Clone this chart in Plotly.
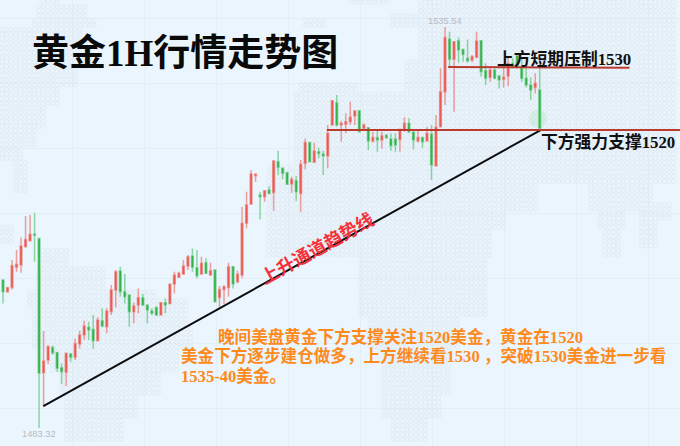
import plotly.graph_objects as go

# --- chart values (gold, 1H candles) ---
OPEN = [1502.59,1501.07,1501.63,1504.24,1504.54,1506.93,1507.71,1508.58,1508.01,1490.52,
        1492.17,1493.82,1493.17,1491.18,1490.57,1492.95,1492.52,1494.26,1495.43,1496.43,
        1496.17,1494.69,1497.29,1496.51,1498.47,1501.29,1503.76,1501.07,1500.64,1498.47,
        1499.33,1500.29,1499.33,1498.55,1498.99,1498.03,1499.64,1499.55,1502.07,1502.94,
        1503.37,1504.41,1505.71,1504.20,1503.37,1504.85,1503.24,1503.89,1500.33,1501.37,
        1501.63,1504.33,1502.37,1503.24,1509.97,1512.48,1516.17,1513.66,1513.44,1514.31,
        1514.00,1518.00,1517.13,1516.56,1515.09,1515.52,1513.87,1517.78,1520.51,1517.91,
        1519.30,1518.99,1518.73,1522.77,1525.68,1522.77,1522.86,1523.20,1523.94,1524.64,
        1522.34,1522.42,1520.69,1521.16,1520.82,1521.43,1520.95,1520.95,1520.90,1522.12,
        1522.99,1521.82,1520.69,1521.16,1520.69,1521.56,1517.48,1522.55,1527.11,1533.97,
        1531.32,1533.75,1532.62,1531.45,1531.23,1531.58,1533.75,1529.84,1528.98,1529.93,
        1529.15,1528.72,1529.15,1530.80,1531.75,1530.37,1528.85,1527.98,1527.67,1527.33]
HIGH = [1502.59,1501.72,1505.19,1506.50,1508.14,1510.92,1511.05,1511.36,1508.01,1495.95,
        1494.13,1494.04,1493.26,1491.74,1493.13,1493.13,1494.99,1495.99,1497.29,1497.16,
        1498.03,1497.73,1498.90,1498.90,1501.94,1503.89,1504.33,1503.37,1500.72,1499.64,
        1501.50,1500.77,1499.33,1498.90,1499.20,1499.64,1500.20,1502.07,1503.67,1503.67,
        1505.19,1505.84,1506.71,1506.50,1505.63,1505.41,1504.85,1503.98,1501.81,1501.94,
        1504.85,1504.33,1503.80,1512.14,1514.09,1516.91,1516.48,1514.09,1514.31,1514.83,
        1518.21,1519.43,1517.26,1516.69,1516.04,1516.13,1518.21,1521.03,1520.60,1520.47,
        1519.82,1519.43,1522.77,1526.03,1526.68,1523.33,1524.29,1525.81,1524.72,1524.72,
        1522.99,1522.42,1521.90,1522.03,1521.90,1521.60,1521.69,1521.69,1522.21,1523.77,
        1523.64,1522.12,1522.12,1521.25,1522.55,1522.77,1524.07,1530.15,1535.54,1534.92,
        1533.62,1534.18,1532.75,1533.92,1531.88,1534.92,1533.84,1530.80,1530.15,1530.15,
        1529.28,1530.37,1531.67,1531.45,1531.88,1531.67,1530.15,1528.98,1529.50,1530.37]
LOW = [1499.55,1500.94,1501.37,1503.67,1503.54,1506.93,1507.58,1504.98,1483.32,1486.10,
       1491.61,1492.82,1490.65,1489.05,1488.79,1491.96,1492.17,1493.69,1494.78,1494.78,
       1493.61,1494.69,1496.43,1495.65,1498.03,1499.03,1500.42,1499.55,1496.51,1496.95,
       1498.25,1499.20,1496.95,1498.03,1497.90,1498.03,1498.25,1499.55,1500.85,1502.94,
       1503.24,1503.89,1503.67,1502.81,1503.24,1503.37,1503.11,1499.77,1499.03,1499.46,
       1500.42,1501.50,1502.16,1502.81,1509.32,1512.35,1515.39,1510.49,1512.79,1513.79,
       1511.62,1516.26,1515.70,1514.96,1513.96,1512.88,1511.49,1517.00,1517.91,1517.87,
       1518.43,1516.26,1517.13,1522.77,1522.55,1520.60,1521.69,1522.77,1522.77,1521.90,
       1522.12,1519.52,1520.47,1519.30,1519.73,1520.95,1519.43,1519.30,1519.30,1521.90,
       1521.69,1519.60,1520.51,1519.82,1520.60,1515.61,1517.35,1522.47,1525.37,1530.15,
       1524.51,1530.89,1531.02,1530.89,1530.93,1531.45,1529.06,1527.98,1528.41,1528.72,
       1527.54,1527.67,1527.85,1530.15,1530.15,1528.41,1527.67,1526.03,1526.89,1522.34]
CLOSE = [1501.07,1501.59,1504.46,1504.63,1507.02,1507.88,1508.54,1508.41,1490.44,1492.04,
         1493.91,1493.13,1491.09,1490.65,1493.04,1492.52,1494.34,1495.43,1496.60,1496.08,
         1494.69,1497.38,1496.60,1498.55,1501.29,1503.67,1501.07,1500.42,1498.47,1499.20,
         1500.29,1499.33,1498.68,1498.25,1498.03,1499.64,1499.33,1502.03,1503.24,1503.46,
         1504.41,1505.63,1504.24,1503.15,1504.76,1503.46,1503.80,1499.77,1501.37,1501.72,
         1504.33,1502.07,1503.33,1509.97,1512.35,1516.39,1516.35,1513.44,1514.22,1513.87,
         1518.08,1517.26,1516.48,1515.05,1515.70,1514.09,1517.65,1520.51,1518.00,1519.39,
         1519.08,1518.73,1521.69,1525.94,1522.77,1522.99,1523.20,1523.77,1524.59,1521.90,
         1522.77,1520.69,1521.16,1520.82,1521.38,1521.16,1520.08,1520.17,1522.21,1522.99,
         1521.90,1520.82,1521.16,1520.60,1521.69,1517.56,1522.47,1527.11,1534.18,1531.32,
         1533.62,1532.54,1531.97,1531.10,1531.67,1533.71,1529.71,1528.85,1529.93,1528.85,
         1528.63,1528.98,1530.80,1530.37,1530.37,1528.85,1527.98,1527.33,1528.20,1522.34]
CANDLE_IDX = list(range(len(OPEN)))

HIGHEST_LABEL = "1535.54"
LOWEST_LABEL = "1483.32"
SUPPORT = 1522.12
RESISTANCE = 1530.33
TREND_START = (8.95, 1486.18)
TREND_END = (119.2, 1522.12)

TITLE = "黄金1H行情走势图"
RESIST_TEXT = "上方短期压制1530"
SUPPORT_TEXT = "下方强力支撑1520"
TREND_TEXT = "上升通道趋势线"
NOTE_LINES = ["晚间美盘黄金下方支撑关注1520美金，黄金在1520",
              "美金下方逐步建仓做多，上方继续看1530 ，突破1530美金进一步看",
              "1535-40美金。"]

# --- decorative dotted world map: (y from, y to, x from, x to) blocks in picture pixels ---
MAP_BLOCKS = [
    (0, 8, 45, 62), (8, 20, 40, 88), (20, 30, 35, 98), (30, 50, 0, 85), (50, 70, 0, 95),
    (70, 90, 0, 80), (90, 110, 0, 62), (110, 130, 0, 48), (130, 150, 0, 38),
    (150, 165, 0, 24), (165, 195, 18, 28),
    (228, 246, 0, 16), (250, 268, 45, 70), (268, 290, 40, 110), (290, 310, 30, 160),
    (300, 330, 35, 190), (330, 350, 35, 195), (350, 375, 55, 180), (375, 400, 62, 165),
    (400, 420, 65, 140), (420, 446, 65, 125),
    (0, 8, 350, 392), (0, 15, 420, 680), (15, 30, 395, 680), (30, 60, 420, 680),
    (60, 95, 405, 680), (20, 30, 305, 330), (85, 100, 300, 360), (95, 130, 296, 680),
    (130, 170, 296, 680), (170, 188, 268, 680), (188, 212, 268, 540), (188, 212, 592, 655),
    (212, 232, 268, 510), (212, 232, 600, 630), (232, 262, 268, 495), (232, 262, 605, 625),
    (262, 278, 360, 490), (278, 320, 362, 490), (320, 350, 370, 462), (350, 400, 382, 452),
    (400, 420, 385, 445), (420, 446, 392, 430),
    (205, 225, 640, 672), (225, 250, 640, 660),
]
DOT_STEP_X = 4.6
DOT_STEP_Y = 4.6
map_x, map_y = [], []
seen = set()
for y0, y1, x0, x1 in MAP_BLOCKS:
    r0, r1 = int(y0 / DOT_STEP_Y), int(y1 / DOT_STEP_Y)
    c0, c1 = int(x0 / DOT_STEP_X), int(x1 / DOT_STEP_X)
    for r in range(r0, r1):
        for c in range(c0, c1):
            if (r, c) not in seen:
                seen.add((r, c))
                map_x.append(c * DOT_STEP_X + 2)
                map_y.append(r * DOT_STEP_Y + 2)

BG = "#eaf5fe"
RED_BODY, RED_WICK = "#e9504a", "rgba(236,100,92,0.6)"
GREEN_BODY, GREEN_WICK = "#2aaf40", "rgba(60,185,85,0.55)"
LINE_RED = "#bb3a2e"
ORANGE = "#ff8a1c"
SANS = "'Liberation Serif','Noto Sans CJK SC',serif"

fig = go.Figure()
fig.add_trace(go.Scatter(
    x=map_x, y=map_y, mode="markers", hoverinfo="skip", xaxis="x", yaxis="y",
    marker=dict(symbol="circle-open", size=4.2, color="#dde6ef", line=dict(width=0.7, color="#dde6ef")),
))
fig.add_trace(go.Candlestick(
    x=CANDLE_IDX, open=OPEN, high=HIGH, low=LOW, close=CLOSE, xaxis="x2", yaxis="y2",
    whiskerwidth=0,
    increasing=dict(line=dict(color=RED_WICK, width=1.5), fillcolor=RED_BODY),
    decreasing=dict(line=dict(color=GREEN_WICK, width=1.5), fillcolor=GREEN_BODY),
))
# soft green glow around the last candle's foot
fig.add_trace(go.Scatter(
    x=[118.6], y=[1523.6], mode="markers", xaxis="x2", yaxis="y2", hoverinfo="skip",
    marker=dict(size=18, color="rgba(110,215,120,0.16)", line=dict(width=0)),
))
fig.add_trace(go.Scatter(
    x=[TREND_START[0], TREND_END[0]], y=[TREND_START[1], TREND_END[1]], mode="lines",
    xaxis="x2", yaxis="y2", line=dict(color="#0c0c0c", width=2), hoverinfo="skip",
))
fig.add_trace(go.Scatter(
    x=[71.8, 150.1], y=[SUPPORT, SUPPORT], mode="lines",
    xaxis="x2", yaxis="y2", line=dict(color=LINE_RED, width=2), hoverinfo="skip",
))
fig.add_trace(go.Scatter(
    x=[98.7, 138.9], y=[RESISTANCE, RESISTANCE - 0.1], mode="lines",
    xaxis="x2", yaxis="y2", line=dict(color=LINE_RED, width=2), hoverinfo="skip",
))


def note(text, px, py, size, color, xanchor="left", angle=0, bold=True, family=SANS):
    if bold:
        text = f"<b>{text}</b>"
    fig.add_annotation(
        text=text, xref="paper", yref="paper", x=px / 680, y=1 - py / 446, xanchor=xanchor,
        yanchor="middle", showarrow=False, textangle=angle,
        font=dict(size=size, color=color, family=family),
    )


note(TITLE, 185, 53, 37, "#0a0a0a", xanchor="center")
note(RESIST_TEXT, 495, 59, 16.8, "#101010")
note(SUPPORT_TEXT, 539, 142, 16.8, "#101010")
note(TREND_TEXT, 317, 248, 18, "#f5323a", xanchor="center", angle=-29)
note(NOTE_LINES[0], 216, 337, 16.6, ORANGE)
note(NOTE_LINES[1], 179, 356, 16.6, ORANGE)
note(NOTE_LINES[2], 179, 376, 16.6, ORANGE)
note(HIGHEST_LABEL, 445, 21, 9.3, "#b5bcc2", xanchor="center", bold=False, family="'Liberation Sans',sans-serif")
note(LOWEST_LABEL, 39, 434, 9.3, "#b5bcc2", xanchor="center", bold=False, family="'Liberation Sans',sans-serif")

hidden = dict(showticklabels=False, ticks="", zeroline=False, showline=False, fixedrange=True)
fig.update_layout(
    width=680, height=446, autosize=False, margin=dict(l=0, r=0, t=0, b=0),
    paper_bgcolor=BG, plot_bgcolor=BG, showlegend=False, boxgap=0.45,
    xaxis=dict(range=[0, 680], domain=[0, 1], showgrid=True, gridcolor="#e2eef8", gridwidth=1,
               tickvals=[0, 72, 144, 216, 288, 360, 432, 504, 576, 648], **hidden),
    yaxis=dict(range=[446, 0], domain=[0, 1], showgrid=True, gridcolor="#e2eef8", gridwidth=1,
               tickvals=[18, 83, 148, 213, 278, 343, 408], **hidden),
    xaxis2=dict(range=[-0.665, 150.1], overlaying="x", anchor="y2", showgrid=False,
                rangeslider=dict(visible=False), **hidden),
    yaxis2=dict(range=[1480.98, 1539.05], overlaying="y", anchor="x2", showgrid=False, **hidden),
)
fig.write_html("out.html", config=dict(displayModeBar=False),
               post_script="document.body.style.margin='0';document.body.style.overflow='hidden';")
